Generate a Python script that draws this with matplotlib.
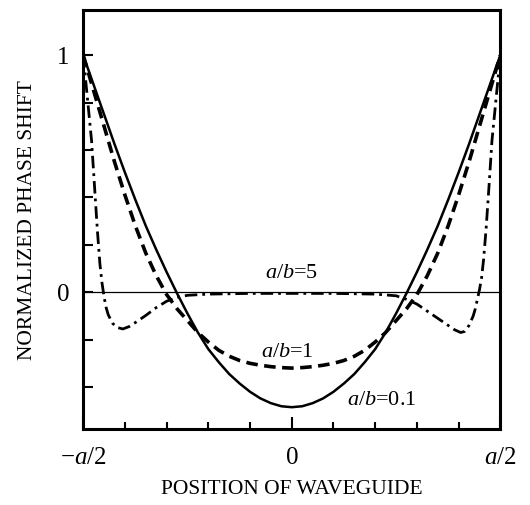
import matplotlib.pyplot as plt
from matplotlib.ticker import FixedLocator

plt.rcParams["font.family"] = ["Liberation Serif", "DejaVu Serif"]
plt.rcParams["mathtext.fontset"] = "custom"
plt.rcParams["mathtext.rm"] = "Liberation Serif"
plt.rcParams["mathtext.it"] = "Liberation Serif:italic"

# position across the guide, in units of a (-a/2 .. a/2)
x_01 = [-0.5, -0.475, -0.45, -0.425, -0.4, -0.375, -0.35, -0.325, -0.3, -0.275,
        -0.25, -0.225, -0.2, -0.175, -0.15, -0.125, -0.1, -0.075, -0.05, -0.025,
        0.0, 0.025, 0.05, 0.075, 0.1, 0.125, 0.15, 0.175, 0.2, 0.225,
        0.25, 0.275, 0.3, 0.325, 0.35, 0.375, 0.4, 0.425, 0.45, 0.475, 0.5]
y_01 = [1.0, 0.875, 0.75, 0.625, 0.505, 0.39, 0.28, 0.18, 0.085, -0.005,
        -0.09, -0.17, -0.24, -0.295, -0.345, -0.385, -0.42, -0.448, -0.468, -0.481,
        -0.485, -0.481, -0.468, -0.448, -0.42, -0.385, -0.345, -0.295, -0.24, -0.17,
        -0.09, -0.005, 0.085, 0.18, 0.28, 0.39, 0.505, 0.625, 0.75, 0.875, 1.0]

x_1 = x_01
y_1 = [1.0, 0.85, 0.70, 0.55, 0.41, 0.28, 0.165, 0.07, -0.01, -0.07,
       -0.12, -0.17, -0.21, -0.245, -0.27, -0.288, -0.30, -0.308, -0.314, -0.318,
       -0.32, -0.318, -0.314, -0.308, -0.30, -0.288, -0.27, -0.245, -0.21, -0.17,
       -0.12, -0.07, -0.01, 0.07, 0.165, 0.28, 0.41, 0.55, 0.70, 0.85, 1.0]

x_5 = [-0.5, -0.49, -0.48, -0.473, -0.466, -0.46, -0.455, -0.45, -0.445, -0.44,
       -0.43, -0.42, -0.405, -0.39, -0.375, -0.35, -0.325, -0.3, -0.275, -0.25,
       -0.2, -0.1, 0.0, 0.1, 0.2,
       0.25, 0.275, 0.3, 0.325, 0.35, 0.375, 0.39, 0.405, 0.415, 0.425,
       0.435, 0.44, 0.445, 0.45, 0.455, 0.46, 0.466, 0.473, 0.48, 0.49, 0.5]
y_5 = [1.0, 0.82, 0.64, 0.45, 0.26, 0.12, 0.04, -0.02, -0.065, -0.095,
       -0.13, -0.148, -0.155, -0.145, -0.128, -0.098, -0.065, -0.038, -0.022, -0.013,
       -0.008, -0.005, -0.005, -0.005, -0.008,
       -0.015, -0.03, -0.05, -0.08, -0.11, -0.14, -0.158, -0.17, -0.165, -0.14,
       -0.10, -0.07, -0.03, 0.01, 0.06, 0.14, 0.27, 0.45, 0.64, 0.82, 1.0]

xtick_pos = [-0.5, 0.0, 0.5]
xtick_labels = [r"$-a/2$", "0", r"$a/2$"]
ytick_pos = [0.0, 1.0]
ytick_labels = ["0", "1"]

fig = plt.figure(figsize=(5.3, 5.05), dpi=100)
ax = fig.add_axes([0.157, 0.15, 0.787, 0.83])

ax.axhline(0, color="black", lw=0.9)
ax.plot(x_01, y_01, color="black", lw=1.8)
ax.plot(x_1, y_1, color="black", lw=2.6, linestyle=(0, (3.2, 1.8)))
ax.plot(x_5, y_5, color="black", lw=2.0, linestyle=(0, (4.5, 1.8, 1, 1.8)))

ax.text(0.0, 0.08, r"$a/b$=5", ha="center", va="center", fontsize=16)
ax.text(-0.01, -0.255, r"$a/b$=1", ha="center", va="center", fontsize=16)
ax.text(0.215, -0.455, r"$a/b$=0.1", ha="center", va="center", fontsize=16)

ax.set_xlim(-0.5, 0.5)
ax.set_ylim(-0.578, 1.19)

ax.xaxis.set_major_locator(FixedLocator(xtick_pos))
ax.xaxis.set_minor_locator(FixedLocator([-0.4, -0.3, -0.2, -0.1, 0.1, 0.2, 0.3, 0.4]))
ax.set_xticklabels(xtick_labels)
ax.yaxis.set_major_locator(FixedLocator(ytick_pos))
ax.yaxis.set_minor_locator(FixedLocator([-0.4, -0.2, 0.2, 0.4, 0.6, 0.8]))
ax.set_yticklabels(ytick_labels)

ax.tick_params(axis="x", which="major", direction="in", length=9, width=1.5,
               labelsize=18, pad=13)
ax.tick_params(axis="x", which="minor", direction="in", length=5, width=1.5)
ax.tick_params(axis="y", which="both", direction="in", length=7, width=1.5,
               labelsize=18, pad=10)

for s in ax.spines.values():
    s.set_linewidth(2.2)

ax.set_xlabel("POSITION OF WAVEGUIDE", fontsize=15.5, labelpad=8)
ax.set_ylabel("NORMALIZED PHASE SHIFT", fontsize=15.5, labelpad=14)

fig.savefig("out.png", dpi=100)
